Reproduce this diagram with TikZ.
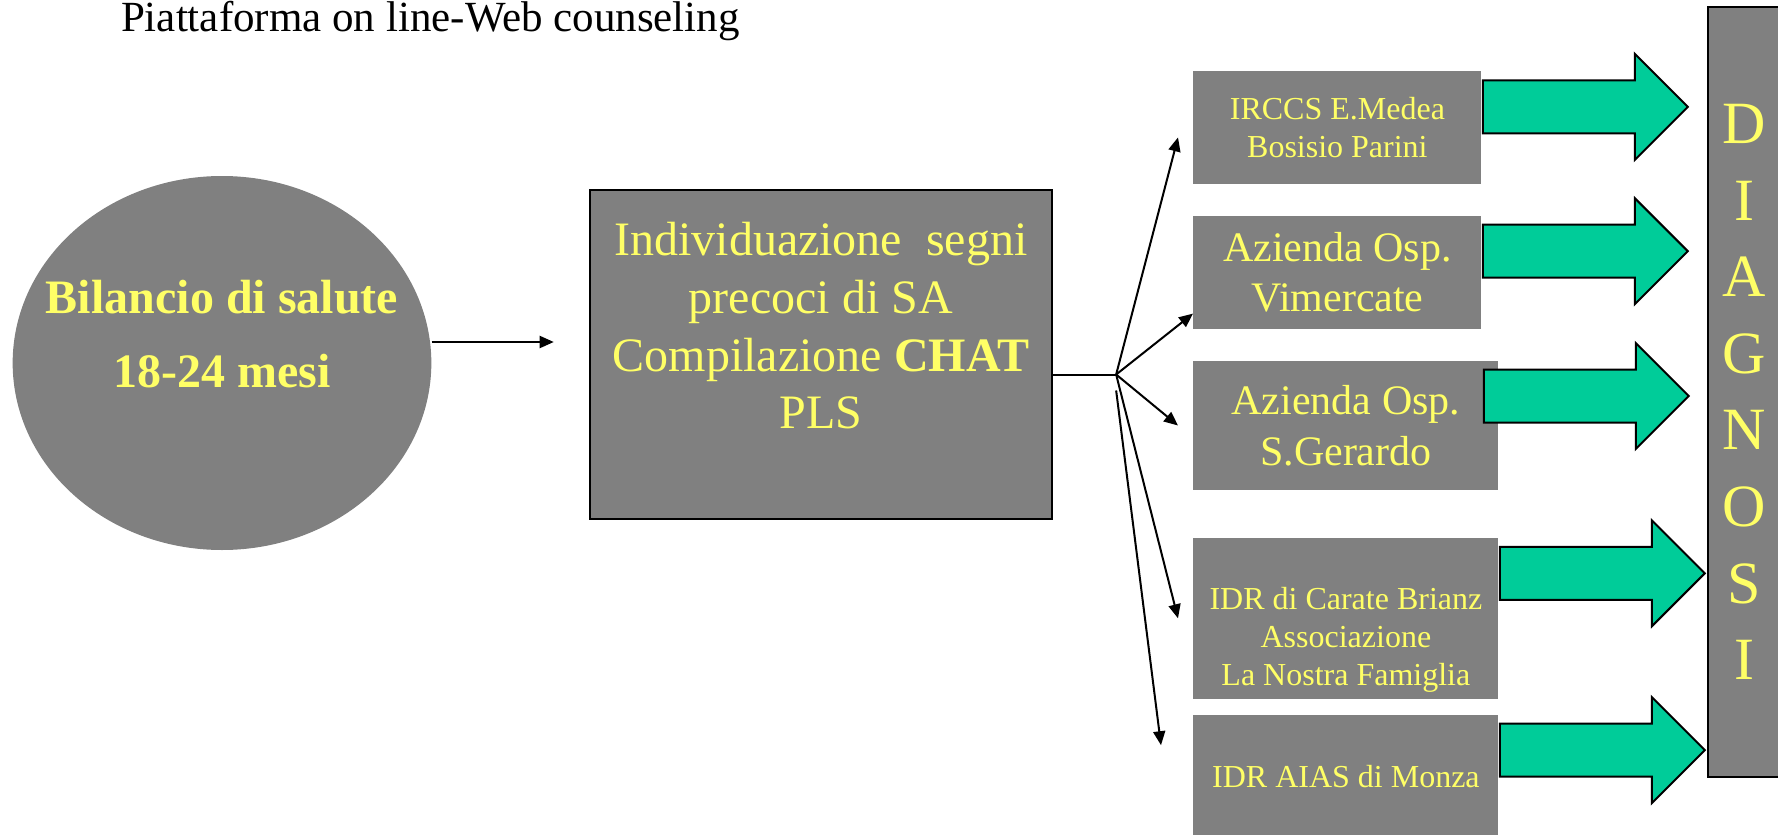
\documentclass[tikz,border=0pt]{standalone}
\usepackage{fontspec}
\setmainfont{Liberation Serif}
\usepackage{xcolor}
\usetikzlibrary{positioning, shapes.geometric, shapes.arrows, arrows.meta}
\definecolor{boxgray}{RGB}{128,128,128}
\definecolor{textyellow}{RGB}{255,255,102}
\definecolor{arrowgreen}{RGB}{0,204,153}
\def\fsz#1#2{\fontsize{#1}{#2}\selectfont}

\begin{document}
\begin{tikzpicture}[
	x=0.5pt, y=-0.5pt,
	oval/.style={ellipse, fill=boxgray, text=textyellow, minimum width=209pt, minimum height=187pt, inner xsep=-14pt, inner ysep=0pt, align=center, font=\bfseries\fsz{24}{37}},
	chat/.style={rectangle, draw=black, line width=1.2pt, fill=boxgray, text=textyellow, minimum width=231pt, minimum height=164.5pt, inner sep=0pt, align=center, font=\fsz{24}{28.8}},
	site/.style={rectangle, fill=boxgray, text=textyellow, inner sep=0pt, align=center},
	barrow/.style={single arrow, draw=black, line width=1pt, fill=arrowgreen, minimum height=102.5pt, single arrow head extend=13.25pt, inner xsep=0pt, inner ysep=12.75pt, anchor=tail},
	diag/.style={rectangle, draw=black, line width=1pt, fill=boxgray, text=textyellow, minimum width=36pt, minimum height=385pt, inner sep=0pt, align=center, font=\fsz{30}{38.3}},
	fan/.style={-{Triangle[length=7pt, width=6pt]}, line width=1pt},
	]
		\useasboundingbox (0,0) rectangle (1778,835);

		%Nodes
		\node[anchor=base west, font=\fsz{21.5}{26}] (Title) at (114,32) {Piattaforma on line-Web counseling};
		\node[oval]        (Bilancio)  at (222,363)  {Bilancio di salute\\18-24 mesi\\[-8pt]\mbox{}};
		\node[chat]        (Chat)      [right=78.5pt of Bilancio, yshift=4.25pt] {Individuazione\ \ segni\\precoci di SA\\Compilazione \textbf{CHAT}\\PLS\\\mbox{}};

		\node[site, minimum width=144pt, minimum height=56.5pt, font=\fsz{16}{19}, anchor=north west] (Irccs) at (1193,71) {IRCCS E.Medea\\Bosisio Parini};
		\node[site, minimum width=144pt, minimum height=56.5pt, font=\fsz{21}{25}]     (Vimercate) [below right=15.5pt and 0pt of Irccs.south west]     {Azienda Osp.\\Vimercate};
		\node[site, minimum width=152.5pt, minimum height=64.5pt, font=\fsz{21}{25.5}] (Gerardo)   [below right=15.5pt and 0pt of Vimercate.south west] {Azienda Osp.\\S.Gerardo};
		\node[site, minimum width=152.5pt, minimum height=80.5pt, font=\fsz{16}{19}]   (Carate)    [below right=23.5pt and 0pt of Gerardo.south west]   {\mbox{}\\[14pt]IDR di Carate Brianz\\Associazione\\La Nostra Famiglia};
		\node[site, minimum width=152.5pt, minimum height=62pt, font=\fsz{16}{19}]     (Monza)     [below right=7.5pt and 0pt of Carate.south west]     {IDR AIAS di Monza};

		\node[diag, anchor=north west] (Diagnosi) at (1707,6) {D\\I\\A\\G\\N\\O\\S\\I};

		\node[barrow] (ArrIrccs)     at ([yshift=10.5pt]Irccs.east) {};
		\node[barrow] (ArrVimercate) at ([yshift=10.75pt]Vimercate.east) {};
		\node[barrow] (ArrGerardo)   at ([xshift=-8pt, yshift=14.75pt]Gerardo.east) {};
		\node[barrow] (ArrCarate)    at ([yshift=22.5pt]Carate.east) {};
		\node[barrow] (ArrMonza)     at ([yshift=13.25pt]Monza.east) {};

		%Lines
		\coordinate (Fork)  at ([xshift=31.5pt, yshift=-10pt]Chat.east);
		\coordinate (Fork2) at ([yshift=-8pt]Fork);
		\draw[fan, shorten >=17.5pt] ([yshift=10.5pt]Bilancio.east) -- ([yshift=6.25pt]Chat.west);
		\draw[line width=1pt] ([yshift=-10pt]Chat.east) -- (Fork);
		\draw[fan] (Fork)  -- ([xshift=-7.5pt, yshift=-4.75pt]Irccs.west);
		\draw[fan] (Fork)  -- ([yshift=8pt]Vimercate.south west);
		\draw[fan] (Fork)  -- ([xshift=-7.5pt]Gerardo.west);
		\draw[fan] (Fork)  -- ([xshift=-7.5pt]Carate.west);
		\draw[fan] (Fork2) -- ([xshift=-16pt, yshift=-15.5pt]Monza.north west);
	\end{tikzpicture}
\end{document}
